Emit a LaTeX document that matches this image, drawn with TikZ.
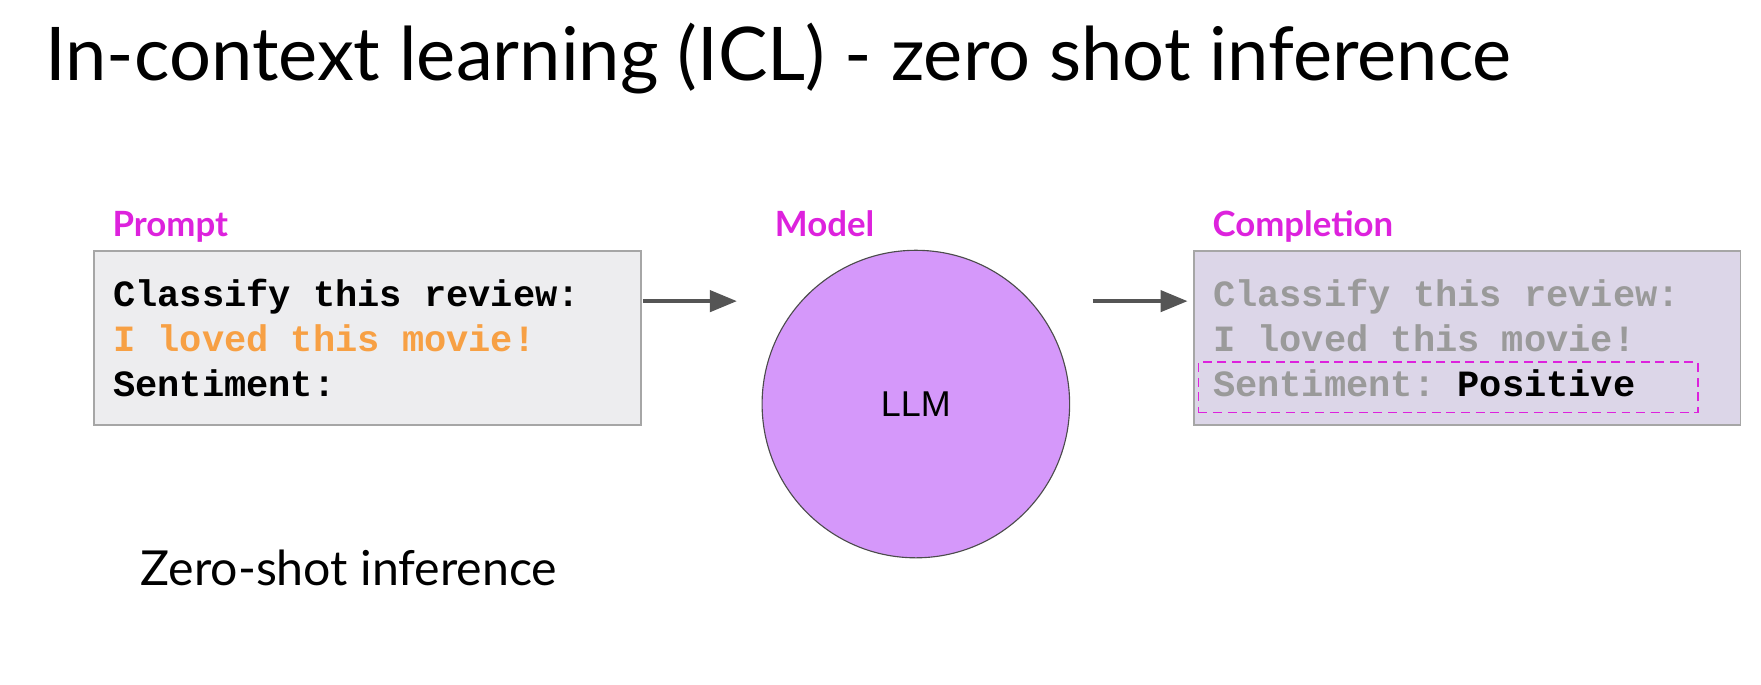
\documentclass[tikz,border=0pt]{standalone}
\usepackage{fontspec}
\setmainfont{Lato}
\setmonofont{Liberation Mono}
\newfontfamily\arialfont{Liberation Sans}
\usetikzlibrary{arrows.meta,calc}

\definecolor{labelpink}{HTML}{DD22DD}
\definecolor{promptgray}{HTML}{EDEDEF}
\definecolor{complgray}{HTML}{DCD6E8}
\definecolor{llmviolet}{HTML}{D598FA}
\definecolor{reviewor}{HTML}{F7A044}
\definecolor{fadegray}{HTML}{9A9A9A}
\definecolor{arrowgray}{HTML}{555555}

\begin{document}
\begin{tikzpicture}[x=0.5pt,y=-0.5pt,
  heading/.style={anchor=base west,inner sep=0pt,font=\fontsize{33}{40}\selectfont},
  caption/.style={anchor=base west,inner sep=0pt,text=labelpink,font=\bfseries\fontsize{15.5}{18}\selectfont},
  textbox/.style={rectangle,draw=black!35,line width=0.8pt,anchor=north west,
    minimum width=243.5pt,minimum height=77.5pt,text width=226.5pt,align=left,
    inner xsep=8.5pt,font=\ttfamily\bfseries\fontsize{16.5}{20}\selectfont,
    execute at begin node={\spaceskip=0pt\xspaceskip=0pt}},
  model/.style={circle,draw=black!70,line width=0.5pt,fill=llmviolet,minimum size=137pt,
    font=\arialfont\fontsize{16}{19}\selectfont},
  answer/.style={rectangle,draw=labelpink,dash pattern=on 4pt off 2.5pt,line width=0.7pt,
    anchor=north west,minimum width=222.5pt,minimum height=22.5pt},
  flow/.style={-{Triangle[length=12pt,width=9.5pt]},draw=arrowgray,line width=1.5pt}]
    \useasboundingbox (0,0) rectangle (1569,610);
    % Title
    \node[heading] (title) at (40,72) {In-context learning (ICL) - zero shot inference};
    % Labels
    \node[caption] (promptlbl) at (100,211) {Prompt};
    \node[caption] (modellbl) at (690,211) {Model};
    \node[caption] (compllbl) at (1080,211) {Completion};
    % Prompt, model and completion
    \node[textbox,fill=promptgray] (prompt) at (83,223)
      {Classify this review:\\\textcolor{reviewor}{I loved this movie!}\\Sentiment:};
    \node[model] (llm) at (816,360) {LLM};
    \node[textbox,fill=complgray,text=fadegray] (completion) at (1063,223)
      {Classify this review:\\I loved this movie!\\Sentiment: \textcolor{black}{Positive}};
    \node[answer] (result) at (1067,322) {};
    % Arrows
    \draw[flow] ($(prompt.east)+(1,-33)$) -- ($(prompt.east -| llm.west)+(-22,-33)$);
    \draw[flow] ($(completion.west -| llm.east)+(20,-33)$) -- ($(completion.west)+(-5,-33)$);
    % Caption below
    \node[anchor=base west,inner sep=0pt,font=\fontsize{21.5}{26}\selectfont] (zeroshot)
      at (125,522) {Zero-shot inference};
\end{tikzpicture}
\end{document}
